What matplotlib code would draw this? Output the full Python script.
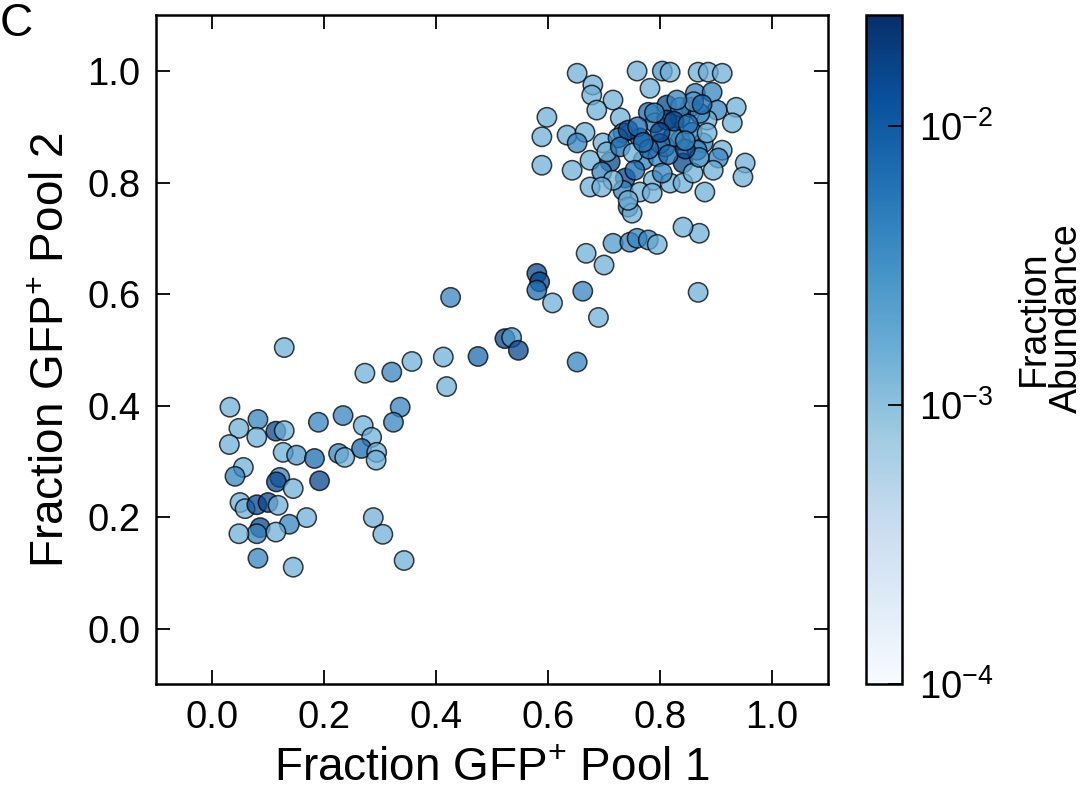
#librerias
import numpy as np
import matplotlib
matplotlib.use('Agg')
import matplotlib.pyplot as plt
from matplotlib.colors import LogNorm
from matplotlib.cm import ScalarMappable
from matplotlib.ticker import NullLocator

plt.rcParams['font.family'] = ['Liberation Sans', 'DejaVu Sans']
plt.rcParams['mathtext.fontset'] = 'custom'
plt.rcParams['mathtext.rm'] = 'Liberation Sans'
plt.rcParams['mathtext.it'] = 'Liberation Sans'

#datos: fraccion GFP+ pool 1, pool 2 y abundancia
pool1 = [0.129, 0.032, 0.048, 0.082, 0.080, 0.114, 0.129, 0.031, 0.127, 0.151,
         0.183, 0.190, 0.234, 0.270, 0.285, 0.226, 0.237, 0.267, 0.294, 0.293,
         0.321, 0.273, 0.357, 0.336, 0.324, 0.413, 0.419, 0.056, 0.041, 0.121,
         0.115, 0.145, 0.192, 0.050, 0.059, 0.080, 0.100, 0.118, 0.169, 0.138,
         0.086, 0.080, 0.048, 0.114, 0.082, 0.145, 0.288, 0.305, 0.343,
         0.426, 0.475, 0.523, 0.535, 0.547, 0.580, 0.585, 0.580, 0.608, 0.662,
         0.690, 0.652, 0.668, 0.700, 0.716, 0.746, 0.759, 0.779, 0.795, 0.868,
         0.870, 0.841,
         0.652, 0.680, 0.678, 0.716, 0.687, 0.759, 0.804, 0.818, 0.868, 0.886,
         0.911, 0.782, 0.812, 0.863, 0.893, 0.936, 0.902, 0.929, 0.884, 0.836,
         0.779, 0.729, 0.734, 0.764, 0.791, 0.598, 0.589, 0.589, 0.634, 0.666,
         0.652, 0.698, 0.836, 0.877, 0.911, 0.904, 0.952, 0.948, 0.643, 0.675,
         0.711, 0.696, 0.675, 0.738, 0.734, 0.770, 0.796, 0.841, 0.788, 0.818,
         0.841, 0.880, 0.764, 0.786, 0.743, 0.750, 0.743, 0.725, 0.743, 0.705,
         0.729, 0.752, 0.809, 0.823, 0.857, 0.866, 0.812, 0.854, 0.836, 0.871,
         0.884, 0.804, 0.859, 0.895, 0.716, 0.696, 0.760, 0.800, 0.825, 0.850,
         0.780, 0.870, 0.815, 0.845, 0.790, 0.860, 0.755, 0.830, 0.875, 0.800,
         0.845, 0.770]
pool2 = [0.504, 0.397, 0.359, 0.375, 0.343, 0.354, 0.355, 0.330, 0.316, 0.311,
         0.305, 0.370, 0.382, 0.364, 0.343, 0.314, 0.307, 0.323, 0.316, 0.302,
         0.460, 0.458, 0.479, 0.397, 0.370, 0.487, 0.434, 0.289, 0.273, 0.271,
         0.263, 0.251, 0.265, 0.226, 0.215, 0.222, 0.226, 0.221, 0.199, 0.187,
         0.181, 0.170, 0.170, 0.173, 0.126, 0.110, 0.199, 0.169, 0.122,
         0.594, 0.488, 0.520, 0.522, 0.499, 0.637, 0.622, 0.607, 0.584, 0.605,
         0.558, 0.478, 0.673, 0.652, 0.691, 0.693, 0.700, 0.697, 0.689, 0.603,
         0.709, 0.720,
         0.996, 0.975, 0.957, 0.948, 0.930, 1.000, 1.000, 0.998, 0.998, 0.998,
         0.996, 0.969, 0.939, 0.960, 0.962, 0.935, 0.930, 0.907, 0.912, 0.916,
         0.926, 0.916, 0.889, 0.880, 0.907, 0.917, 0.882, 0.831, 0.885, 0.890,
         0.871, 0.871, 0.876, 0.871, 0.858, 0.844, 0.835, 0.810, 0.822, 0.840,
         0.837, 0.819, 0.792, 0.808, 0.786, 0.840, 0.846, 0.835, 0.804, 0.799,
         0.799, 0.783, 0.783, 0.781, 0.756, 0.745, 0.768, 0.880, 0.894, 0.855,
         0.864, 0.853, 0.864, 0.882, 0.890, 0.858, 0.912, 0.935, 0.935, 0.924,
         0.889, 0.817, 0.817, 0.822, 0.804, 0.792, 0.900, 0.870, 0.910, 0.905,
         0.860, 0.845, 0.850, 0.860, 0.925, 0.945, 0.822, 0.948, 0.940, 0.890,
         0.875, 0.872]
abundance = [1.5e-3, 1.5e-3, 1.5e-3, 4e-3, 1.5e-3, 1.5e-2, 1.5e-3, 1.5e-3, 1.5e-3, 2.5e-3,
             7e-3, 4e-3, 4e-3, 1.5e-3, 1.5e-3, 4e-3, 1.5e-3, 7e-3, 1.5e-3, 1.5e-3,
             4e-3, 1.5e-3, 1.5e-3, 4e-3, 4e-3, 1.5e-3, 1.5e-3, 1.5e-3, 4e-3, 4e-3,
             1.5e-2, 1.5e-3, 1.5e-2, 1.5e-3, 1.5e-3, 1.5e-2, 1.5e-2, 1.5e-3, 1.5e-3, 4e-3,
             1.5e-2, 4e-3, 1.5e-3, 1.5e-3, 4e-3, 1.5e-3, 1.5e-3, 1.5e-3, 1.5e-3,
             4e-3, 7e-3, 1.5e-2, 2.5e-3, 1.5e-2, 1.5e-2, 1.5e-2, 7e-3, 1.5e-3, 4e-3,
             1.5e-3, 4e-3, 1.5e-3, 1.5e-3, 2.5e-3, 4e-3, 4e-3, 4e-3, 1.5e-3, 1.5e-3,
             1.5e-3, 1.5e-3,
             1.5e-3, 1.5e-3, 1.5e-3, 1.5e-3, 1.5e-3, 1.5e-3, 2.5e-3, 1.5e-3, 1.5e-3, 1.5e-3,
             1.5e-3, 1.5e-3, 1.5e-2, 4e-3, 4e-3, 1.5e-3, 4e-3, 1.5e-3, 1.5e-3, 4e-3,
             7e-3, 1.5e-3, 4e-3, 1.5e-2, 4e-3, 1.5e-3, 1.5e-3, 1.5e-3, 1.5e-3, 1.5e-3,
             4e-3, 1.5e-3, 4e-3, 4e-3, 1.5e-3, 4e-3, 1.5e-3, 1.5e-3, 1.5e-3, 1.5e-3,
             1.5e-2, 4e-3, 1.5e-3, 1.5e-2, 4e-3, 4e-3, 4e-3, 1.5e-2, 1.5e-3, 1.5e-3,
             1.5e-3, 1.5e-3, 1.5e-3, 1.5e-3, 4e-3, 1.5e-3, 1.5e-3, 4e-3, 1.5e-2, 1.5e-3,
             7e-3, 1.5e-3, 4e-3, 4e-3, 4e-3, 4e-3, 1.5e-2, 1.5e-2, 4e-3, 4e-3,
             1.5e-3, 4e-3, 1.5e-3, 1.5e-3, 1.5e-3, 1.5e-3, 7e-3, 7e-3, 1.5e-2, 7e-3,
             7e-3, 4e-3, 7e-3, 1.5e-2, 4e-3, 2.5e-3, 7e-3, 4e-3, 7e-3, 1.5e-2,
             4e-3, 7e-3]

ticks_xy = [0.0, 0.2, 0.4, 0.6, 0.8, 1.0]
cb_ticks = [1e-4, 1e-3, 1e-2]

#figura
fig = plt.figure(figsize=(10.91, 8.05), dpi=100)
ax = fig.add_axes([0.143, 0.150, 0.616, 0.831])
cax = fig.add_axes([0.794, 0.150, 0.033, 0.831])

norm = LogNorm(vmin=1e-4, vmax=2.5e-2)
sc = ax.scatter(pool1, pool2, c=abundance, cmap='Blues', norm=norm, s=195,
                edgecolors='black', linewidths=1.1, alpha=0.75, zorder=3)

ax.set_xlim(-0.1, 1.1)
ax.set_ylim(-0.1, 1.1)
ax.set_xticks(ticks_xy)
ax.set_yticks(ticks_xy)
ax.set_xticklabels(['%.1f' % t for t in ticks_xy])
ax.set_yticklabels(['%.1f' % t for t in ticks_xy])
ax.tick_params(direction='in', length=10, width=1.3, labelsize=27.5, pad=11,
               top=True, right=True)
for sp in ax.spines.values():
    sp.set_linewidth(1.8)

ax.set_xlabel('Fraction GFP$^{+}$ Pool 1', fontsize=33, labelpad=8)
ax.set_ylabel('Fraction GFP$^{+}$ Pool 2', fontsize=33, labelpad=10)

#barra de color (sin transparencia)
sm = ScalarMappable(norm=norm, cmap='Blues')
cb = fig.colorbar(sm, cax=cax)
cb.outline.set_linewidth(1.8)
cb.set_ticks(cb_ticks)
cax.yaxis.set_minor_locator(NullLocator())
cax.tick_params(direction='in', length=10, width=1.3, labelsize=27.5, pad=12)

fig.text(1050 / 1091, 1 - 318 / 805, 'Fraction\nAbundance', fontsize=27,
         rotation=90, ha='center', va='center', linespacing=0.9)

fig.text(0.0, 0.997, 'C', fontsize=33, ha='left', va='top')

fig.savefig('out.png', dpi=100)
